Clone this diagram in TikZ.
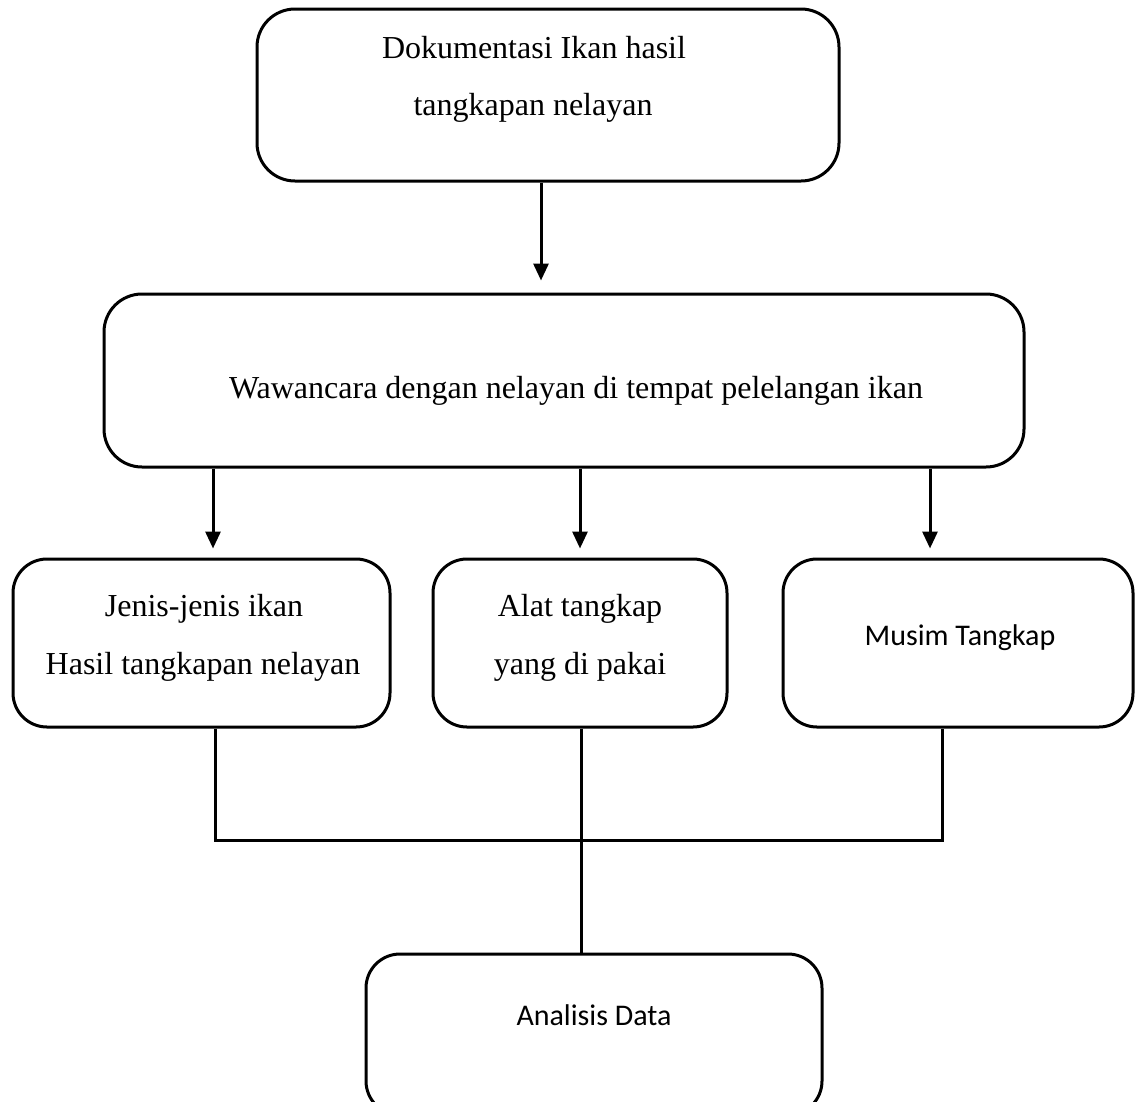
\documentclass[tikz,border=0pt]{standalone}
\usepackage{fontspec}
\setmainfont{Liberation Serif}
\newfontfamily\calib{Carlito}
\usetikzlibrary{arrows.meta}
\begin{document}
\begin{tikzpicture}[x=1pt,y=-1pt,
  box/.style={draw, line width=3pt, rounded corners=38pt, inner sep=0pt, rectangle},
  serif/.style={font=\fontsize{32}{38}\selectfont, anchor=base, inner sep=0pt},
  sans/.style={font=\calib\fontsize{30}{36}\selectfont, anchor=base, inner sep=0pt},
  conn/.style={line width=3pt},
  arr/.style={line width=3pt, -{Triangle[length=17pt,width=15pt]}}]
\useasboundingbox (0,0) rectangle (1135,1101);
\clip (0,0) rectangle (1135,1101);
% boxes
\node[box, minimum width=582pt, minimum height=172pt] (top) at (548,95) {};
\node[box, minimum width=920pt, minimum height=173pt] (waw) at (564,380.5) {};
\node[box, minimum width=377pt, minimum height=168pt, rounded corners=34pt] (b1) at (201.5,643) {};
\node[box, minimum width=294pt, minimum height=168pt, rounded corners=34pt] (b2) at (580,643) {};
\node[box, minimum width=350pt, minimum height=168pt, rounded corners=34pt] (b3) at (958,643) {};
\node[box, minimum width=456pt, minimum height=161pt, rounded corners=34pt] (ana) at (594,1034.5) {};
% texts
\node[serif] (t1a) at (534,58) {Dokumentasi Ikan hasil};
\node[serif] (t1b) at (533,115) {tangkapan nelayan};
\node[serif] (t2) at (576,398) {Wawancara dengan nelayan di tempat pelelangan ikan};
\node[serif] (t3a) at (204,616) {Jenis-jenis ikan};
\node[serif] (t3b) at (203,674) {Hasil tangkapan nelayan};
\node[serif] (t4a) at (580,616) {Alat tangkap};
\node[serif] (t4b) at (580,674) {yang di pakai};
\node[sans] (t5) at (960,645) {Musim Tangkap};
\node[sans] (t6) at (594,1025) {Analisis Data};
% connector columns
\coordinate (a0) at (541,0);
\coordinate (a1) at (213,0);
\coordinate (a2) at (580,0);
\coordinate (a3) at (930,0);
\coordinate (c1) at (215,0);
\coordinate (c2) at (581,0);
\coordinate (c3) at (942,0);
\coordinate (hl) at (0,840);
% arrows
\draw[arr, shorten >=12pt] (a0 |- top.south) -- (a0 |- waw.north);
\draw[arr, shorten >=9pt] (a1 |- waw.south) -- (a1 |- b1.north);
\draw[arr, shorten >=9pt] (a2 |- waw.south) -- (a2 |- b2.north);
\draw[arr, shorten >=9pt] (a3 |- waw.south) -- (a3 |- b3.north);
% joins
\draw[conn] (c1 |- b1.south) -- (c1 |- hl) -- (c3 |- hl) -- (c3 |- b3.south);
\draw[conn] (c2 |- b2.south) -- (c2 |- ana.north);
\end{tikzpicture}
\end{document}
